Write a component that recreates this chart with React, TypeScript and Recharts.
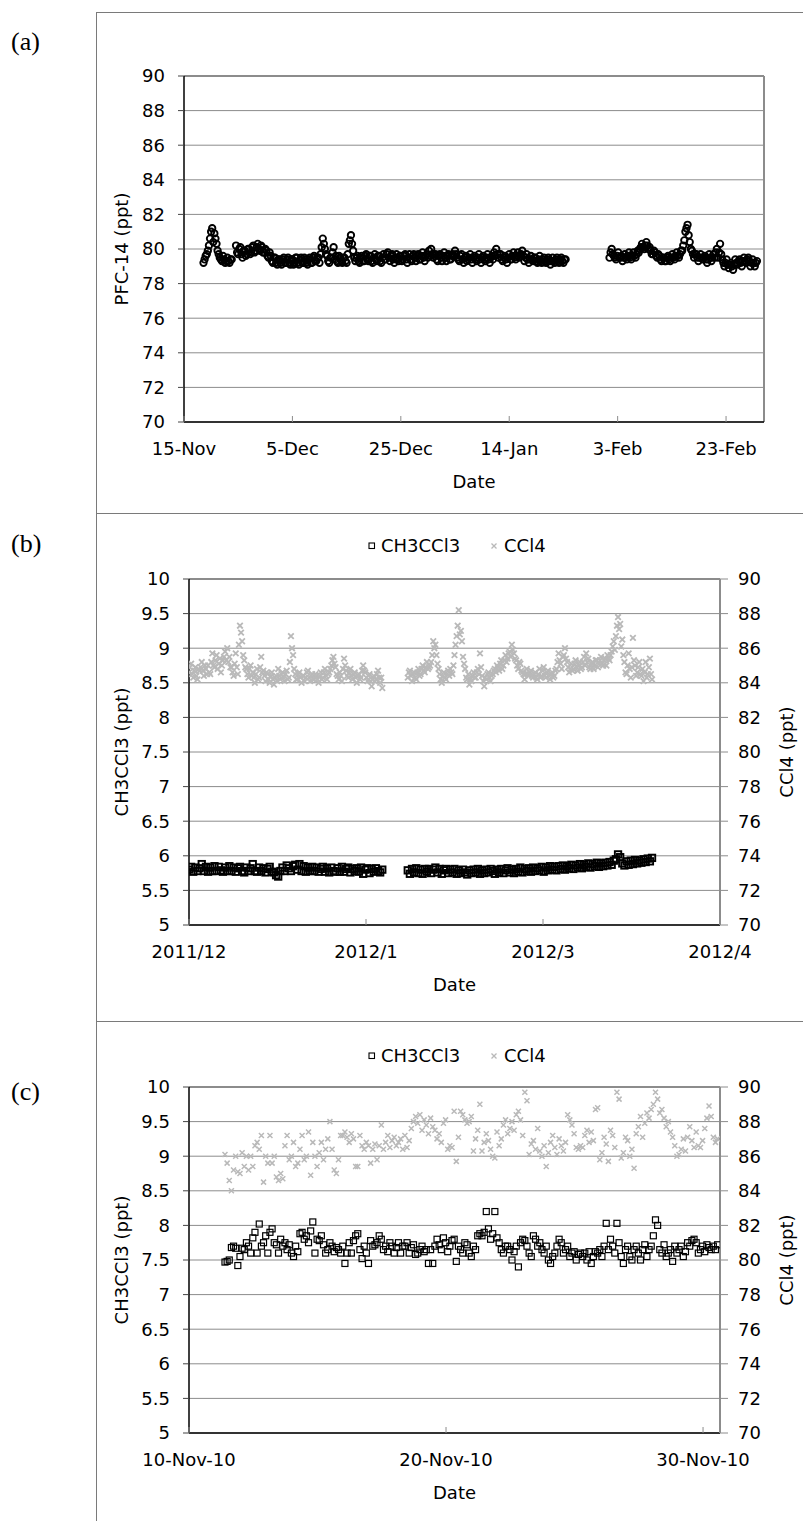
import React from 'react';
import { ScatterChart, Scatter, XAxis, YAxis, CartesianGrid, ReferenceLine } from 'recharts';

const FONT = '"DejaVu Sans", Verdana, sans-serif';
const SERIF = '"Liberation Serif", "Times New Roman", serif';
const GRID = '#8c8c8c';
const FRAME = '#7a7a7a';
const CROSS = '#b9b9b9';

// ---------- (a) PFC-14, x = days after 15 Nov ----------
// two interleaved sample sets per run (second one half a step later)
const pfcTicks = [0, 20, 40, 60, 80, 100];
const pfcTickLabels = ['15-Nov', '5-Dec', '25-Dec', '14-Jan', '3-Feb', '23-Feb'];
const pfcYTicks = [70, 72, 74, 76, 78, 80, 82, 84, 86, 88, 90];
const pfcStep = 0.4;
const pfcNovStart = 3.6;
const pfcNov = [79.2, 79.6, 79.9, 80.6, 81.2, 80.9, 80.3, 79.7, 79.4, 79.6, 79.2, 79.5, 79.2, 79.4];
const pfcNovB = [79.4, 79.7, 80.2, 81.0, 80.4, 80.6, 79.9, 79.5, 79.3, 79.4, 79.3, 79.3, 79.4];
const pfcWinterStart = 9.6;
const pfcWinter = [
  80.2, 79.7, 80.1, 79.5, 79.9, 79.7, 80.0, 79.8, 80.2, 79.9,
  80.3, 79.9, 80.1, 79.8, 79.9, 79.5, 79.6, 79.2, 79.5, 79.1,
  79.4, 79.1, 79.5, 79.2, 79.5, 79.1, 79.4, 79.2, 79.5, 79.1,
  79.5, 79.2, 79.4, 79.1, 79.5, 79.2, 79.6, 79.3, 79.5, 79.7,
  80.6, 80.0, 79.6, 79.2, 79.5, 80.1, 79.6, 79.2, 79.5, 79.2,
  79.5, 79.2, 80.3, 80.8, 79.9, 79.3, 79.6, 79.2, 79.6, 79.3,
  79.7, 79.3, 79.6, 79.2, 79.7, 79.3, 79.6, 79.2, 79.7, 79.4,
  79.8, 79.3, 79.7, 79.2, 79.7, 79.3, 79.6, 79.4, 79.7, 79.2,
  79.7, 79.3, 79.7, 79.3, 79.7, 79.4, 79.8, 79.3, 79.7, 79.9,
  80.0, 79.5, 79.7, 79.3, 79.7, 79.3, 79.8, 79.3, 79.7, 79.4,
  79.7, 79.9, 79.5, 79.3, 79.7, 79.2, 79.6, 79.4, 79.7, 79.2,
  79.6, 79.3, 79.7, 79.2, 79.6, 79.3, 79.7, 79.2, 79.6, 79.8,
  80.0, 79.5, 79.7, 79.3, 79.6, 79.2, 79.7, 79.4, 79.8, 79.4,
  79.8, 79.6, 79.9, 79.3, 79.7, 79.2, 79.6, 79.3, 79.5, 79.2,
  79.6, 79.2, 79.5, 79.2, 79.5, 79.1, 79.5, 79.2, 79.5, 79.2,
  79.5, 79.2, 79.4,
];
const pfcWinterB = [
  79.8, 80.0, 79.7, 79.9, 79.6, 80.0, 79.7, 80.1, 79.8, 80.1,
  80.0, 80.2, 79.8, 80.0, 79.6, 79.8, 79.3, 79.5, 79.2, 79.4,
  79.2, 79.4, 79.2, 79.4, 79.2, 79.4, 79.1, 79.5, 79.2, 79.4,
  79.2, 79.5, 79.2, 79.4, 79.2, 79.5, 79.3, 79.5, 79.2, 80.1,
  80.3, 79.7, 79.3, 79.5, 79.8, 79.4, 79.3, 79.6, 79.3, 79.5,
  79.3, 79.7, 80.5, 80.3, 79.5, 79.5, 79.3, 79.5, 79.3, 79.6,
  79.4, 79.6, 79.3, 79.5, 79.4, 79.6, 79.3, 79.5, 79.4, 79.7,
  79.5, 79.6, 79.4, 79.5, 79.4, 79.6, 79.3, 79.6, 79.4, 79.5,
  79.4, 79.6, 79.5, 79.6, 79.4, 79.6, 79.5, 79.6, 79.5, 79.6,
  79.7, 79.6, 79.4, 79.6, 79.5, 79.6, 79.5, 79.6, 79.4, 79.6,
  79.6, 79.7, 79.4, 79.6, 79.4, 79.5, 79.3, 79.5, 79.4, 79.5,
  79.4, 79.5, 79.4, 79.5, 79.4, 79.5, 79.4, 79.5, 79.4, 79.6,
  79.7, 79.7, 79.4, 79.5, 79.4, 79.5, 79.4, 79.6, 79.5, 79.6,
  79.5, 79.7, 79.6, 79.5, 79.4, 79.4, 79.4, 79.5, 79.3, 79.4,
  79.3, 79.4, 79.3, 79.4, 79.3, 79.3, 79.3, 79.4, 79.3, 79.4,
  79.3, 79.4,
];
const pfcFebStart = 78.5;
const pfcFeb = [
  79.5, 80.0, 79.6, 79.4, 79.8, 79.5, 79.3, 79.7, 79.4, 79.8,
  79.4, 79.8, 79.5, 79.9, 80.0, 80.3, 80.0, 80.4, 80.0, 79.9,
  79.7, 79.8, 79.5, 79.6, 79.3, 79.5, 79.3, 79.6, 79.3, 79.7,
  79.4, 79.8, 79.5, 79.9, 80.2, 81.0, 81.4, 80.4, 79.9, 79.5,
  79.7, 79.3, 79.7, 79.4, 79.6, 79.2, 79.7, 79.3, 79.7, 79.8,
  79.5, 80.3, 79.4, 79.0, 79.4, 78.9, 79.2, 78.8, 79.4, 79.1,
  79.4, 79.0, 79.5, 79.2, 79.5, 79.0, 79.4, 79.0, 79.3,
];
const pfcFebB = [
  79.8, 79.7, 79.5, 79.6, 79.5, 79.6, 79.5, 79.5, 79.6, 79.5,
  79.6, 79.6, 79.7, 79.8, 80.1, 80.1, 80.2, 80.2, 80.1, 79.7,
  79.9, 79.6, 79.7, 79.4, 79.5, 79.3, 79.5, 79.4, 79.5, 79.5,
  79.6, 79.6, 79.7, 79.9, 80.5, 81.2, 80.8, 80.0, 79.7, 79.7,
  79.5, 79.5, 79.5, 79.5, 79.4, 79.4, 79.5, 79.5, 79.5, 80.0,
  79.8, 79.7, 79.2, 79.2, 79.1, 79.1, 79.0, 79.1, 79.2, 79.3,
  79.2, 79.3, 79.3, 79.4, 79.3, 79.2, 79.2, 79.2,
];

// ---------- (b) 2011/12 - 2012/4, x = days after 1 Dec 2011 ----------
const winterTicks = [0, 50, 100, 150];
const winterTickLabels = ['2011/12', '2012/1', '2012/3', '2012/4'];
const leftTicks = [5, 5.5, 6, 6.5, 7, 7.5, 8, 8.5, 9, 9.5, 10];
const rightTicks = [70, 72, 74, 76, 78, 80, 82, 84, 86, 88, 90];
const winterStep = 0.6;
const decStart = 0;
const janStart = 61.8;
const ch3Dec = [
  5.80, 5.84, 5.77, 5.83, 5.78, 5.82, 5.88, 5.78, 5.84, 5.77,
  5.83, 5.78, 5.85, 5.78, 5.84, 5.79, 5.77, 5.83, 5.78, 5.85,
  5.78, 5.83, 5.77, 5.82, 5.84, 5.78, 5.76, 5.83, 5.78, 5.82,
  5.88, 5.78, 5.77, 5.83, 5.78, 5.82, 5.76, 5.81, 5.84, 5.77,
  5.76, 5.72, 5.70, 5.78, 5.83, 5.78, 5.86, 5.82, 5.78, 5.85,
  5.87, 5.80, 5.88, 5.78, 5.85, 5.77, 5.83, 5.78, 5.84, 5.78,
  5.83, 5.77, 5.81, 5.84, 5.77, 5.82, 5.76, 5.83, 5.78, 5.77,
  5.82, 5.77, 5.84, 5.77, 5.81, 5.83, 5.76, 5.81, 5.78, 5.82,
  5.77, 5.83, 5.74, 5.80, 5.82, 5.75, 5.81, 5.77, 5.82, 5.78,
  5.76, 5.80,
];
const ch3Jan = [
  5.79, 5.74, 5.81, 5.76, 5.82, 5.75, 5.80, 5.74, 5.81, 5.77,
  5.81, 5.75, 5.80, 5.83, 5.76, 5.81, 5.74, 5.79, 5.81, 5.75,
  5.80, 5.76, 5.81, 5.74, 5.79, 5.75, 5.80, 5.76, 5.73, 5.79,
  5.75, 5.80, 5.76, 5.81, 5.74, 5.79, 5.75, 5.80, 5.76, 5.81,
  5.78, 5.74, 5.80, 5.76, 5.81, 5.75, 5.79, 5.82, 5.76, 5.80,
  5.75, 5.81, 5.77, 5.83, 5.76, 5.81, 5.78, 5.82, 5.77, 5.83,
  5.78, 5.82, 5.79, 5.84, 5.77, 5.83, 5.79, 5.85, 5.80, 5.84,
  5.79, 5.85, 5.81, 5.86, 5.80, 5.85, 5.82, 5.87, 5.81, 5.86,
  5.83, 5.88, 5.82, 5.87, 5.84, 5.89, 5.83, 5.88, 5.85, 5.90,
  5.84, 5.89, 5.85, 5.90, 5.86, 5.91, 5.87, 5.93, 5.95, 6.02,
  5.98, 5.89, 5.86, 5.92, 5.87, 5.93, 5.88, 5.94, 5.89, 5.93,
  5.90, 5.95, 5.91, 5.96, 5.92, 5.97,
];
const cclDec = [
  84.6, 85.1, 84.3, 84.9, 84.2, 84.7, 85.2, 84.4, 84.8, 85.0,
  84.5, 85.7, 84.9, 85.6, 85.1, 84.6, 85.3, 85.8, 86.0, 85.5,
  84.9, 84.4, 85.7, 84.5, 87.3, 86.4, 85.3, 84.8, 84.3, 85.0,
  84.6, 84.0, 84.8, 84.3, 85.5, 84.7, 84.1, 84.5, 84.0, 84.6,
  83.9, 84.4, 84.8, 84.2, 84.6, 84.1, 84.7, 84.3, 86.7, 85.6,
  84.5, 84.2, 84.6, 84.0, 84.4, 84.3, 84.7, 84.1, 84.5, 84.2,
  84.4, 84.0, 84.6, 84.3, 84.8, 84.2, 84.6, 85.0, 85.5, 84.9,
  84.4, 84.6, 84.1, 85.4, 84.7, 84.3, 84.8, 84.2, 84.6, 84.0,
  84.5, 84.3, 85.0, 84.6, 84.1, 84.5, 83.8, 84.4, 84.2, 84.7,
  84.0, 83.7,
];
const cclDecB = [
  84.9, 84.5, 84.7, 84.4, 84.8, 84.9, 84.7, 85.0, 84.5, 84.6,
  85.2, 85.0, 85.3, 84.8, 85.4, 85.0, 85.5, 85.3, 85.2, 84.9,
  84.6, 85.1, 84.9, 86.2, 86.9, 85.6, 84.9, 84.5, 84.8, 84.4,
  84.3, 84.5, 84.2, 84.9, 84.6, 84.4, 84.6, 84.2, 84.4, 84.2,
  84.3, 84.1, 84.4, 84.5, 84.3, 84.5, 84.2, 85.2, 86.0, 84.8,
  84.2, 84.5, 84.3, 84.4, 84.1, 84.6, 84.3, 84.4, 84.2, 84.5,
  84.2, 84.4, 84.2, 84.6, 84.4, 84.5, 84.8, 85.3, 85.1, 84.5,
  84.2, 84.4, 84.8, 85.0, 84.4, 84.6, 84.4, 84.5, 84.3, 84.4,
  84.2, 84.7, 84.7, 84.3, 84.4, 84.1, 84.2, 84.1, 84.5, 84.3,
  84.3,
];
const cclJan = [
  84.3, 84.7, 84.1, 84.6, 84.2, 84.8, 84.5, 85.0, 84.6, 85.2,
  84.9, 85.2, 86.4, 86.2, 85.1, 84.5, 84.0, 84.6, 84.2, 84.7,
  84.8, 84.5, 85.6, 86.7, 88.2, 87.0, 85.5, 84.8, 84.2, 83.9,
  84.1, 84.6, 84.3, 84.8, 85.7, 84.4, 83.8, 84.2, 84.6, 84.1,
  84.5, 84.8, 85.0, 84.7, 85.3, 85.0, 85.6, 85.4, 85.8, 86.2,
  85.7, 85.3, 84.8, 85.1, 84.6, 84.2, 84.8, 84.4, 84.7, 84.3,
  84.6, 84.2, 84.8, 84.4, 84.9, 84.3, 84.7, 84.2, 84.6, 84.4,
  84.8, 85.7, 85.1, 85.5, 86.0, 85.2, 84.6, 85.1, 84.8, 85.3,
  84.7, 85.2, 84.9, 85.5, 85.7, 85.4, 84.8, 85.2, 85.0, 85.3,
  85.1, 85.5, 85.0, 85.4, 85.6, 85.3, 85.8, 86.4, 86.7, 87.8,
  87.4, 86.5, 85.2, 84.5, 85.7, 84.3, 86.6, 85.0, 84.6, 85.2,
  84.4, 84.1, 85.2, 84.5, 85.4, 84.2,
];
const cclJanB = [
  84.6, 84.4, 84.5, 84.3, 84.6, 84.4, 84.8, 84.7, 84.9, 84.8,
  85.0, 85.6, 86.0, 85.6, 84.8, 84.2, 84.4, 84.3, 84.5, 84.4,
  84.6, 85.0, 86.2, 87.3, 86.8, 86.4, 85.1, 84.3, 84.5, 84.2,
  84.4, 84.3, 84.6, 84.5, 84.9, 84.1, 84.3, 84.5, 84.3, 84.4,
  84.7, 84.6, 84.9, 85.1, 84.8, 85.3, 85.2, 85.7, 85.5, 85.9,
  85.4, 85.0, 85.2, 84.7, 84.5, 84.5, 84.5, 84.6, 84.4, 84.5,
  84.3, 84.5, 84.3, 84.7, 84.4, 84.6, 84.4, 84.5, 84.3, 84.7,
  85.2, 85.3, 84.8, 85.6, 85.4, 84.9, 84.8, 84.7, 85.1, 84.9,
  85.0, 84.8, 85.2, 85.0, 85.2, 84.9, 85.1, 84.8, 85.3, 84.9,
  85.3, 85.1, 85.3, 85.0, 85.4, 85.6, 86.1, 85.9, 87.3, 87.1,
  86.1, 85.6, 84.6, 85.0, 84.8, 84.9, 85.3, 84.4, 84.9, 84.5,
  84.8, 84.6, 84.3, 84.9, 84.5,
];

// ---------- (c) November 2010, x = days after 10 Nov 2010, 2-hourly ----------
const novTicks = [0, 10, 20];
const novTickLabels = ['10-Nov-10', '20-Nov-10', '30-Nov-10'];
const novStart = 1.4;
const novStep = 1 / 12;
const ch3Nov = [
  7.47, 7.48, 7.50, 7.68, 7.70, 7.67, 7.42, 7.55, 7.67, 7.65, 7.75, 7.70,
  7.60, 7.82, 7.90, 7.60, 8.02, 7.70, 7.75, 7.85, 7.60, 7.90, 7.95, 7.75,
  7.72, 7.60, 7.80, 7.70, 7.75, 7.65, 7.72, 7.60, 7.55, 7.70, 7.62, 7.88,
  7.90, 7.80, 7.85, 7.75, 7.92, 8.05, 7.60, 7.80, 7.78, 7.85, 7.72, 7.60,
  7.65, 7.75, 7.70, 7.62, 7.68, 7.65, 7.60, 7.70, 7.45, 7.60, 7.75, 7.60,
  7.78, 7.85, 7.88, 7.65, 7.52, 7.70, 7.60, 7.45, 7.78, 7.70, 7.72, 7.75,
  7.85, 7.80, 7.65, 7.70, 7.62, 7.75, 7.70, 7.60, 7.68, 7.75, 7.60, 7.70,
  7.70, 7.75, 7.60, 7.68, 7.72, 7.58, 7.60, 7.65, 7.70, 7.62, 7.65, 7.45,
  7.65, 7.45, 7.70, 7.80, 7.72, 7.65, 7.82, 7.75, 7.62, 7.70, 7.78, 7.80,
  7.48, 7.70, 7.65, 7.60, 7.75, 7.72, 7.60, 7.55, 7.70, 7.65, 7.85, 7.88,
  7.85, 7.90, 8.20, 7.95, 7.80, 7.88, 8.20, 7.82, 7.75, 7.65, 7.60, 7.70,
  7.70, 7.65, 7.50, 7.62, 7.70, 7.40, 7.75, 7.80, 7.78, 7.70, 7.60, 7.55,
  7.85, 7.80, 7.70, 7.75, 7.65, 7.60, 7.70, 7.50, 7.45, 7.55, 7.60, 7.70,
  7.80, 7.75, 7.60, 7.65, 7.70, 7.55, 7.60, 7.62, 7.50, 7.58, 7.60, 7.55,
  7.60, 7.50, 7.62, 7.45, 7.55, 7.62, 7.60, 7.65, 7.55, 7.70, 8.03, 7.65,
  7.80, 7.70, 7.60, 8.03, 7.75, 7.55, 7.45, 7.65, 7.70, 7.55, 7.50, 7.65,
  7.70, 7.60, 7.50, 7.65, 7.72, 7.55, 7.65, 7.70, 7.85, 8.08, 8.00, 7.65,
  7.60, 7.72, 7.55, 7.60, 7.65, 7.48, 7.70, 7.60, 7.65, 7.70, 7.55, 7.62,
  7.75, 7.70, 7.78, 7.80, 7.75, 7.60, 7.65, 7.70, 7.62, 7.72, 7.68, 7.65,
  7.70, 7.65, 7.72,
];
const cclNov = [
  86.1, 85.6, 84.6, 84.0, 85.2, 86.0, 85.1, 85.0, 86.2, 85.4, 86.0, 85.2,
  86.0, 85.4, 86.6, 86.8, 86.4, 87.2, 84.5, 86.0, 85.6, 87.2, 85.6, 86.0,
  84.8, 84.6, 85.0, 84.7, 86.6, 87.2, 85.8, 86.0, 86.8, 85.4, 85.6, 86.4,
  87.2, 85.8, 86.0, 87.4, 84.9, 86.8, 86.0, 85.4, 86.2, 86.8, 85.8, 86.4,
  87.0, 88.0, 86.4, 85.2, 85.0, 85.8, 87.2, 87.2, 87.4, 87.1, 86.8, 87.3,
  87.0, 85.4, 85.4, 87.2, 86.6, 86.4, 86.8, 86.6, 85.6, 86.4, 86.7, 85.8,
  86.6, 87.8, 86.4, 86.8, 87.2, 86.5, 86.9, 87.1, 86.6, 86.8, 87.0, 86.4,
  87.2, 86.5, 86.9, 87.6, 88.0, 88.3, 87.9, 88.4, 87.5, 88.1, 87.8, 87.3,
  88.2, 87.7, 87.5, 87.0, 87.3, 86.8, 87.9, 88.1, 86.4, 86.6, 86.5, 88.6,
  85.7, 87.1, 88.6, 88.4, 88.1, 87.9, 88.0, 88.3, 86.3, 87.0, 87.5, 89.0,
  86.3, 86.8, 87.3, 86.9, 86.4, 86.0, 85.9, 87.4, 86.6, 87.0, 87.8, 88.1,
  87.3, 87.6, 88.0, 87.5, 88.4, 88.6, 88.1, 87.2, 89.7, 89.2, 86.1, 86.7,
  86.9, 86.4, 87.6, 86.3, 86.0, 86.6, 85.4, 86.2, 86.8, 87.2, 86.5, 86.1,
  87.0, 86.6, 86.3, 86.8, 88.4, 88.1, 87.8, 87.3, 86.5, 86.4, 86.6, 86.5,
  87.2, 87.5, 86.8, 87.4, 86.9, 88.7, 88.8, 85.8, 86.2, 87.1, 86.7, 85.7,
  87.5, 87.2, 86.5, 89.7, 89.3, 85.9, 86.2, 87.1, 86.9, 86.0, 86.4, 85.3,
  87.3, 87.7, 88.3, 87.1, 87.9, 88.5, 88.2, 88.7, 89.0, 89.7, 89.3, 88.5,
  88.7, 88.2, 87.7, 88.0, 87.4, 87.1, 86.6, 86.0, 86.1, 86.4, 87.0, 86.3,
  87.1, 87.7, 86.9, 86.5, 87.4, 86.6, 86.5, 86.9, 87.6, 88.2, 88.9, 88.3,
  87.1, 86.8, 87.0,
];

type Pt = { x: number; y: number };
const toPoints = (start: number, step: number, values: number[]): Pt[] =>
  values.map((y, i) => ({ x: start + i * step, y }));

const half = (step: number) => step / 2;

const pfcData = [
  ...toPoints(pfcNovStart, pfcStep, pfcNov),
  ...toPoints(pfcNovStart + half(pfcStep), pfcStep, pfcNovB),
  ...toPoints(pfcWinterStart, pfcStep, pfcWinter),
  ...toPoints(pfcWinterStart + half(pfcStep), pfcStep, pfcWinterB),
  ...toPoints(pfcFebStart, pfcStep, pfcFeb),
  ...toPoints(pfcFebStart + half(pfcStep), pfcStep, pfcFebB),
];
const ch3WinterData = [...toPoints(decStart, winterStep, ch3Dec), ...toPoints(janStart, winterStep, ch3Jan)];
const cclWinterData = [
  ...toPoints(decStart, winterStep, cclDec),
  ...toPoints(decStart + half(winterStep), winterStep, cclDecB),
  ...toPoints(janStart, winterStep, cclJan),
  ...toPoints(janStart + half(winterStep), winterStep, cclJanB),
];
const ch3NovData = toPoints(novStart, novStep, ch3Nov);
const cclNovData = toPoints(novStart, novStep, cclNov);

const axisFont = { fontSize: 18, fontFamily: FONT, fill: '#000' };
const labelStyle = { textAnchor: 'middle' as const, fontSize: 18, fontFamily: FONT, fill: '#000' };

// markers
const OpenCircle = (p: any) => (
  <circle cx={p.cx} cy={p.cy} r={3.2} fill="none" stroke="#000" strokeWidth={1.9} />
);
const makeSquare = (h: number, sw: number) => (p: any) => (
  <rect x={p.cx - h} y={p.cy - h} width={h * 2} height={h * 2} fill="none" stroke="#000" strokeWidth={sw} />
);
const makeCross = (h: number, sw: number) => (p: any) => (
  <path
    d={`M${p.cx - h},${p.cy - h}L${p.cx + h},${p.cy + h}M${p.cx - h},${p.cy + h}L${p.cx + h},${p.cy - h}`}
    stroke={CROSS}
    strokeWidth={sw}
  />
);

// date ticks: small inward mark plus label under the axis
function dateTick(ticks: number[], labels: string[]) {
  return (props: any) => {
    const { x, y, payload } = props;
    const label = labels[ticks.indexOf(payload.value)];
    return (
      <g>
        <line x1={x} x2={x} y1={y - 6} y2={y} stroke={GRID} />
        <text x={x} y={y + 27} dy="0.36em" textAnchor="middle" {...axisFont}>
          {label}
        </text>
      </g>
    );
  };
}

function PfcChart() {
  return (
    <ScatterChart width={707} height={500} margin={{ top: 63, right: 39, bottom: 0, left: 0 }}>
      <CartesianGrid vertical={false} stroke={GRID} />
      <ReferenceLine y={90} stroke={GRID} strokeWidth={2} />
      <ReferenceLine x={107} stroke={GRID} strokeWidth={2} />
      <XAxis
        type="number"
        dataKey="x"
        domain={[0, 107]}
        ticks={pfcTicks}
        interval={0}
        allowDataOverflow
        height={91}
        tickSize={0}
        tickMargin={0}
        tickLine={false}
        tick={dateTick(pfcTicks, pfcTickLabels)}
        axisLine={{ stroke: '#000', strokeWidth: 1.5 }}
        label={{ value: 'Date', position: 'insideTop', offset: 53, style: labelStyle }}
      />
      <YAxis
        type="number"
        dataKey="y"
        domain={[70, 90]}
        ticks={pfcYTicks}
        interval={0}
        width={88}
        tickSize={6}
        tickMargin={13}
        tick={axisFont}
        tickLine={{ stroke: '#444' }}
        axisLine={{ stroke: '#000', strokeWidth: 1.5 }}
        label={{ value: 'PFC-14 (ppt)', angle: -90, position: 'insideLeft', offset: 26, style: labelStyle }}
      />
      <Scatter data={pfcData} shape={OpenCircle} isAnimationActive={false} />
    </ScatterChart>
  );
}

type DualProps = {
  height: number;
  xMax: number;
  xTicks: number[];
  xLabels: string[];
  ch3: Pt[];
  ccl: Pt[];
  squareShape: (p: any) => React.ReactElement;
  crossShape: (p: any) => React.ReactElement;
};

function DualChart({ height, xMax, xTicks, xLabels, ch3, ccl, squareShape, crossShape }: DualProps) {
  return (
    <ScatterChart width={707} height={height} margin={{ top: 65, right: 0, bottom: 0, left: 0 }}>
      <CartesianGrid vertical={false} stroke={GRID} yAxisId="left" />
      <ReferenceLine yAxisId="left" y={10} stroke={GRID} strokeWidth={2} />
      <XAxis
        type="number"
        dataKey="x"
        domain={[0, xMax]}
        ticks={xTicks}
        interval={0}
        allowDataOverflow
        height={height - 65 - 346}
        tickSize={0}
        tickMargin={0}
        tickLine={false}
        tick={dateTick(xTicks, xLabels)}
        axisLine={{ stroke: '#000', strokeWidth: 1.5 }}
        label={{ value: 'Date', position: 'insideTop', offset: 53, style: labelStyle }}
      />
      <YAxis
        yAxisId="left"
        type="number"
        dataKey="y"
        domain={[5, 10]}
        ticks={leftTicks}
        interval={0}
        width={93}
        tickSize={6}
        tickMargin={13}
        tick={axisFont}
        tickLine={{ stroke: '#444' }}
        axisLine={{ stroke: '#000', strokeWidth: 1.5 }}
        label={{ value: 'CH3CCl3 (ppt)', angle: -90, position: 'insideLeft', offset: 26, style: labelStyle }}
      />
      <YAxis
        yAxisId="right"
        orientation="right"
        type="number"
        dataKey="y"
        domain={[70, 90]}
        ticks={rightTicks}
        interval={0}
        width={83}
        tickSize={8}
        tickMargin={10}
        tick={axisFont}
        tickLine={{ stroke: GRID }}
        axisLine={{ stroke: GRID, strokeWidth: 2 }}
        label={{ value: 'CCl4 (ppt)', angle: -90, position: 'insideRight', offset: 16, style: labelStyle }}
      />
      <Scatter yAxisId="left" data={ch3} shape={squareShape} isAnimationActive={false} />
      <Scatter yAxisId="right" data={ccl} shape={crossShape} isAnimationActive={false} />
    </ScatterChart>
  );
}

function SeriesKey({ cy }: { cy: number }) {
  const text = { position: 'absolute' as const, top: cy - 11, fontFamily: FONT, fontSize: 18, lineHeight: '22px', color: '#000' };
  return (
    <>
      <svg style={{ position: 'absolute', left: 368, top: cy - 4 }} width={8} height={8}>
        <rect x={1} y={1} width={5.5} height={5.5} fill="#fff" stroke="#000" strokeWidth={1.1} />
      </svg>
      <span style={{ ...text, left: 381 }}>CH3CCl3</span>
      <svg style={{ position: 'absolute', left: 490, top: cy - 4 }} width={8} height={8}>
        <path d="M1.5,1.5L6.5,6.5M1.5,6.5L6.5,1.5" stroke={CROSS} strokeWidth={1.3} />
      </svg>
      <span style={{ ...text, left: 504 }}>CCl4</span>
    </>
  );
}

const line = (left: number, top: number, width: number, height: number) => (
  <div style={{ position: 'absolute', left, top, width, height, background: FRAME }} />
);

const tag = (top: number, text: string) => (
  <div style={{ position: 'absolute', left: 11, top, fontFamily: SERIF, fontSize: 26, lineHeight: '30px' }}>{text}</div>
);

const denseSquare = makeSquare(3.2, 1.9);
const denseCross = makeCross(2.8, 1.8);
const sparseSquare = makeSquare(3, 1.2);
const sparseCross = makeCross(2.5, 1.5);

export default function App() {
  return (
    <div style={{ position: 'absolute', left: 0, top: 0, width: 803, height: 1521, background: '#fff' }}>
      {line(96, 12, 707, 1)}
      {line(96, 12, 1, 1509)}
      {line(96, 513, 707, 1)}
      {line(96, 1021, 707, 1)}
      {tag(27, '(a)')}
      {tag(529, '(b)')}
      {tag(1077, '(c)')}

      <div style={{ position: 'absolute', left: 96, top: 13 }}>
        <PfcChart />
      </div>

      <SeriesKey cy={546} />
      <div style={{ position: 'absolute', left: 96, top: 514 }}>
        <DualChart
          height={507}
          xMax={150}
          xTicks={winterTicks}
          xLabels={winterTickLabels}
          ch3={ch3WinterData}
          ccl={cclWinterData}
          squareShape={denseSquare}
          crossShape={denseCross}
        />
      </div>

      <SeriesKey cy={1056} />
      <div style={{ position: 'absolute', left: 96, top: 1022 }}>
        <DualChart
          height={499}
          xMax={20.66}
          xTicks={novTicks}
          xLabels={novTickLabels}
          ch3={ch3NovData}
          ccl={cclNovData}
          squareShape={sparseSquare}
          crossShape={sparseCross}
        />
      </div>
    </div>
  );
}
